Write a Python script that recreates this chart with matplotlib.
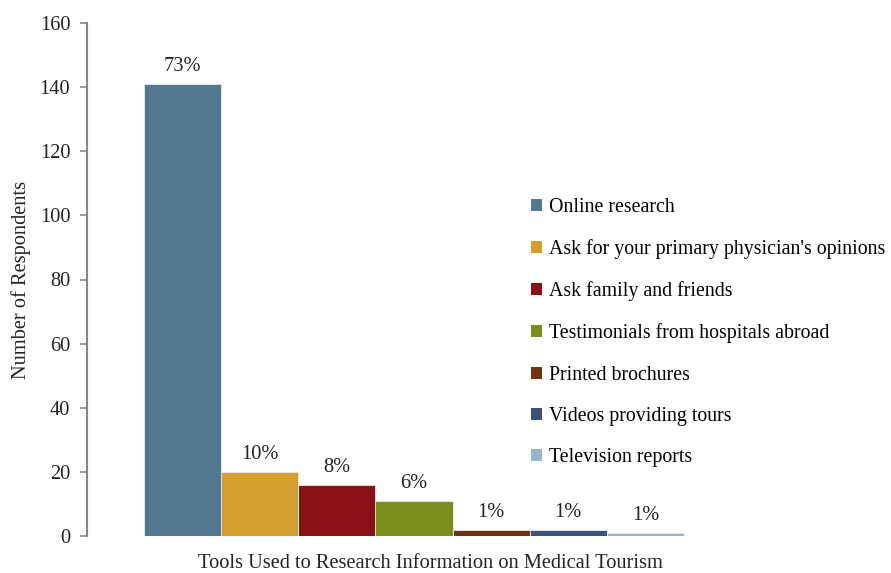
import matplotlib
matplotlib.use("Agg")
import matplotlib.pyplot as plt
from matplotlib.patches import Patch

plt.rcParams['font.family'] = ['Liberation Serif', 'DejaVu Serif']

categories = [
    "Online research",
    "Ask for your primary physician's opinions",
    "Ask family and friends",
    "Testimonials from hospitals abroad",
    "Printed brochures",
    "Videos providing tours",
    "Television reports",
]
respondents = [141, 20, 16, 11, 2, 2, 1]
percent_labels = ["73%", "10%", "8%", "6%", "1%", "1%", "1%"]
colors = ["#52798f", "#d49d2e", "#8a0f16", "#7a8d1d", "#6f3410", "#3e5079", "#9ab4c8"]
y_ticks = [0, 20, 40, 60, 80, 100, 120, 140, 160]

FS = 14.7
LEG_FS = 14.3

fig = plt.figure(figsize=(8.91, 5.73), dpi=100)
ax = fig.add_axes([87 / 891, 1 - 536 / 573, (684 - 87) / 891, (536 - 23) / 573])

x = list(range(len(categories)))
ax.bar(x, respondents, width=1.0, color=colors, edgecolor="#e8edf2", linewidth=0.6)

for xi, v, lab in zip(x, respondents, percent_labels):
    ax.text(xi, v + 2.5, lab, ha="center", va="bottom", fontsize=FS, color="#222222")

ax.set_xlim(-1.24, 6.5)
ax.set_ylim(0, 160)
ax.set_yticks(y_ticks)
ax.tick_params(axis="y", labelsize=FS, length=5, width=1.2, color="#888888", labelcolor="#222222", pad=7)
ax.set_xticks([])

for s in ["top", "right", "bottom"]:
    ax.spines[s].set_visible(False)
ax.spines["left"].set_color("#888888")
ax.spines["left"].set_linewidth(1.5)

ax.set_ylabel("Number of Respondents", fontsize=FS, color="#222222", labelpad=6)
ax.set_xlabel("Tools Used to Research Information on Medical Tourism", fontsize=FS, color="#222222")
ax.xaxis.set_label_coords((430 - 87) / (684 - 87), -0.035)

handles = [Patch(facecolor=c, edgecolor="none") for c in colors]
ax.legend(handles, categories, loc="upper left", bbox_to_anchor=(527 / 891, 1 - 194 / 573),
          bbox_transform=fig.transFigure, frameon=False, fontsize=LEG_FS,
          handlelength=0.55, handleheight=0.55, handletextpad=0.38, labelspacing=1.12,
          borderaxespad=0, borderpad=0.2)

fig.savefig("out.png", dpi=100, facecolor="white")
